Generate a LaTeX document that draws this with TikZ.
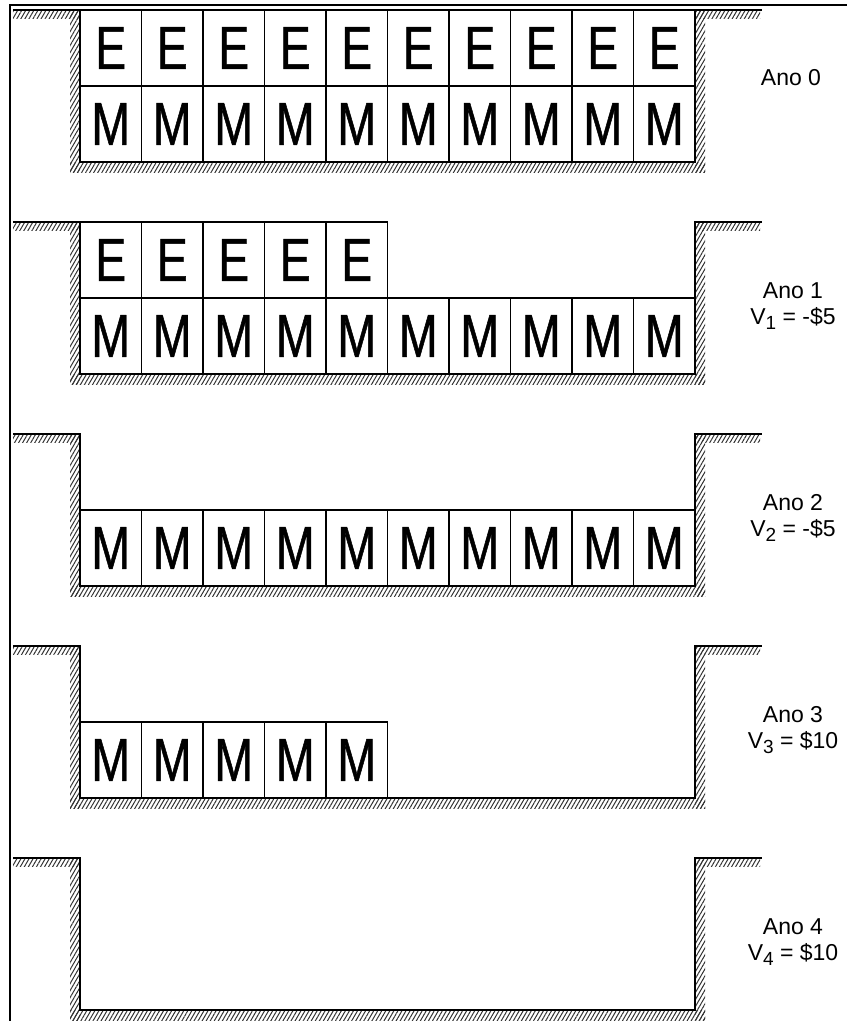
\documentclass[tikz,border=0pt]{standalone}
\usepackage{fontspec}
\setmainfont{Liberation Sans}
\newfontfamily\cellfont[FakeStretch=0.76,FakeBold=0.8]{Liberation Sans}
\usetikzlibrary{patterns.meta}
\newcommand{\vsub}[1]{\raisebox{-0.45ex}{\fontsize{19}{19}\selectfont #1}}

\begin{document}
\begin{tikzpicture}[x=1pt,y=-1pt,
        cell/.style={draw, line width=1.2pt, minimum width=61.5pt, minimum height=76pt, inner sep=0pt, font=\cellfont\fontsize{61}{61}\selectfont},
        ground/.style={line width=1.8pt, line join=miter},
        earth/.style={pattern={Lines[angle=60,distance=3.5pt,line width=1pt]}, pattern color=black!80},
        ano/.style={align=center, font=\fontsize{23}{26}\selectfont}
    ]
        \useasboundingbox (0,0) rectangle (847,1021);
        \draw[line width=2pt] (10,1021) -- (10,5) -- (847,5);

        \foreach \p/\ne/\nm in {0/10/10,1/5/10,2/0/10,3/0/5,4/0/0} {
            \pgfmathsetmacro\yt{10+212*\p}
            \fill[earth] (13,\yt) rectangle (80,\yt+8);
            \fill[earth] (70,\yt) rectangle (80,\yt+162);
            \fill[earth] (70,\yt+152) rectangle (705,\yt+162);
            \fill[earth] (695,\yt) rectangle (705,\yt+162);
            \fill[earth] (695,\yt) rectangle (760,\yt+8);
            \draw[ground] (13,\yt) -- (80,\yt) -- (80,\yt+152) -- (695,\yt+152) -- (695,\yt) -- (762,\yt);
            \ifnum\ne>0
                \foreach \j in {1,...,\ne}
                    \node[cell] (e\p-\j) at ({80+61.5*(\j-0.5)},\yt+38) {E};
            \fi
            \ifnum\nm>0
                \foreach \j in {1,...,\nm}
                    \node[cell] (m\p-\j) at ({80+61.5*(\j-0.5)},\yt+114) {M};
            \fi
        }

        \node[ano] (ano0) at (791,78) {Ano 0};
        \node[ano] (ano1) at (793,306) {Ano 1\\V\vsub{1} = -\$5};
        \node[ano] (ano2) at (793,518) {Ano 2\\V\vsub{2} = -\$5};
        \node[ano] (ano3) at (793,730) {Ano 3\\V\vsub{3} = \$10};
        \node[ano] (ano4) at (793,942) {Ano 4\\V\vsub{4} = \$10};
    \end{tikzpicture}
\end{document}
